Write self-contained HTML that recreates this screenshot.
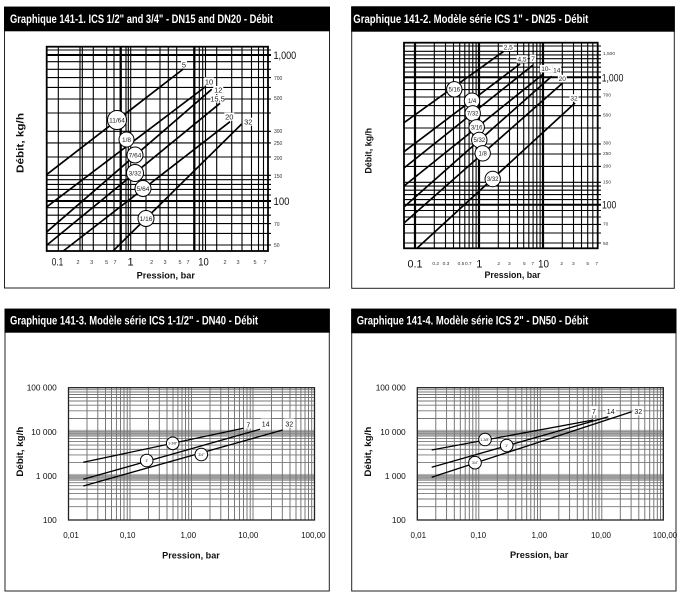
<!DOCTYPE html>
<html><head><meta charset="utf-8"><style>
html,body{margin:0;padding:0;background:#fff;}
svg{display:block;}
text{font-family:"Liberation Sans",Arial,sans-serif;}
</style></head><body>
<svg width="683" height="599" viewBox="0 0 683 599" xmlns="http://www.w3.org/2000/svg">
<defs>
<g id="g3">
<rect x="68.5" y="429.8" width="246" height="6" fill="#b8b8b8"/>
<rect x="68.5" y="473.9" width="246" height="6" fill="#b8b8b8"/>
<path stroke="#6a6a6a" stroke-width="0.9" fill="none" d="M87 387.7V520M97.8 387.7V520M105.5 387.7V520M111.5 387.7V520M116.4 387.7V520M120.5 387.7V520M124 387.7V520M127.2 387.7V520M130 387.7V520M148.5 387.7V520M159.3 387.7V520M167 387.7V520M173 387.7V520M177.9 387.7V520M182 387.7V520M185.5 387.7V520M188.7 387.7V520M191.5 387.7V520M210 387.7V520M220.8 387.7V520M228.5 387.7V520M234.5 387.7V520M239.4 387.7V520M243.5 387.7V520M247 387.7V520M250.2 387.7V520M253 387.7V520M271.5 387.7V520M282.3 387.7V520M290 387.7V520M296 387.7V520M300.9 387.7V520M305 387.7V520M308.5 387.7V520M311.7 387.7V520"/>
<path stroke="#777" stroke-width="0.9" fill="none" d="M68.5 389.7H314.5M68.5 392H314.5M68.5 394.5H314.5M68.5 397.5H314.5M68.5 401H314.5M68.5 405.2H314.5M68.5 410.8H314.5M68.5 418.5H314.5M68.5 431.8H314.5M68.5 433.8H314.5M68.5 436.1H314.5M68.5 438.6H314.5M68.5 441.6H314.5M68.5 445.1H314.5M68.5 449.3H314.5M68.5 454.9H314.5M68.5 462.6H314.5M68.5 475.9H314.5M68.5 477.9H314.5M68.5 480.2H314.5M68.5 482.7H314.5M68.5 485.7H314.5M68.5 489.2H314.5M68.5 493.4H314.5M68.5 499H314.5M68.5 506.7H314.5"/>
<rect x="68.5" y="387.7" width="246" height="132.3" fill="none" stroke="#222" stroke-width="1.3"/>
</g>
</defs>
<rect width="683" height="599" fill="#fff"/>

<!-- ============ PANEL 1 ============ -->
<rect x="4.5" y="7" width="325" height="281" fill="#fff" stroke="#222" stroke-width="1"/>
<rect x="4" y="7" width="326" height="24.3" fill="#000"/>
<text x="10" y="23" font-size="11.5" font-weight="bold" fill="#fff" textLength="263" lengthAdjust="spacingAndGlyphs">Graphique 141-1. ICS 1/2" and 3/4" - DN15 and DN20 - Débit</text>
<g stroke="#000" fill="none">
<path stroke-width="1.1" d="M58.3 46.7V251M80 46.7V251M82.3 46.7V251M93.3 46.7V251M106.7 46.7V251M114 46.7V251M126 46.7V251M128.3 46.7V251M130.7 46.7V251M146 46.7V251M160 46.7V251M168.3 46.7V251M176.7 46.7V251M199.3 46.7V251M202.7 46.7V251M205.5 46.7V251M216.7 46.7V251M231.7 46.7V251M242 46.7V251M251.5 46.7V251M258.5 46.7V251M263.5 46.7V251"/>
<path stroke-width="2.3" d="M120.7 46.7V251M194.3 46.7V251"/>
<path stroke-width="1.1" d="M46.7 50H271M46.7 61.7H271M46.7 69.3H271M46.7 77.6H271M46.7 87.4H271M46.7 99H271M46.7 113H271M46.7 131.3H271M46.7 142.9H271M46.7 157H271M46.7 175.3H271M46.7 179.7H271M46.7 184.4H271M46.7 189.4H271M46.7 195H271M46.7 207.7H271M46.7 215.2H271M46.7 223.6H271M46.7 233.4H271M46.7 245H271"/>
<path stroke-width="2" d="M46.7 55H271M46.7 201H271"/>
<rect x="46.7" y="46.7" width="221.3" height="204.3" stroke-width="1.8"/>
</g>
<g stroke="#000" stroke-width="1.7">
<line x1="47" y1="174.3" x2="183.3" y2="69"/>
<line x1="47" y1="206.7" x2="205.7" y2="86.5"/>
<line x1="47" y1="231.7" x2="211.7" y2="89.3"/>
<line x1="47" y1="245" x2="220" y2="103.3"/>
<line x1="63.3" y1="251" x2="230" y2="121.7"/>
<line x1="113" y1="251" x2="241.7" y2="124"/>
</g>
<g fill="#fff">
<rect x="181" y="60.5" width="6" height="8"/>
<rect x="204" y="77.5" width="10" height="8"/>
<rect x="213.3" y="86" width="10" height="8"/>
<rect x="210.5" y="95" width="14" height="7.5"/>
<rect x="224.3" y="112.7" width="10" height="8"/>
<rect x="243.3" y="117.7" width="10" height="8"/>
</g>
<g font-size="7.5" fill="#222" text-anchor="middle">
<text x="184" y="67.7">5</text>
<text x="209" y="84.4">10</text>
<text x="218.3" y="92.7">12</text>
<text x="217.5" y="101.7">15,5</text>
<text x="229.3" y="119.4">20</text>
<text x="248.3" y="124.4">32</text>
</g>
<g fill="#fff" stroke="#000" stroke-width="1">
<circle cx="117" cy="120" r="9.5"/>
<circle cx="126.5" cy="139.5" r="7.5"/>
<circle cx="135" cy="155" r="8"/>
<circle cx="135" cy="173" r="8.5"/>
<circle cx="143" cy="188.5" r="8"/>
<circle cx="146" cy="218.5" r="8"/>
</g>
<g font-size="6.5" fill="#222" text-anchor="middle">
<text x="117" y="122.3">11/64</text>
<text x="126.5" y="141.8">1/8</text>
<text x="135" y="157.3">7/64</text>
<text x="135" y="175.3">3/32</text>
<text x="143" y="190.8">5/64</text>
<text x="146" y="220.8">1/16</text>
</g>
<g font-size="11" fill="#111" text-anchor="middle">
<text x="57.5" y="265.5" textLength="11.5" lengthAdjust="spacingAndGlyphs">0.1</text>
<text x="130.5" y="265.5">1</text>
<text x="203.5" y="265.5" textLength="10.5" lengthAdjust="spacingAndGlyphs">10</text>
</g>
<g font-size="5.5" fill="#333" text-anchor="middle">
<text x="78" y="264">2</text><text x="91.7" y="264">3</text><text x="106.7" y="264">5</text><text x="115" y="264">7</text>
<text x="151.7" y="264">2</text><text x="165" y="264">3</text><text x="180" y="264">5</text><text x="188" y="264">7</text>
<text x="225" y="264">2</text><text x="238" y="264">3</text><text x="255" y="264">5</text><text x="265" y="264">7</text>
</g>
<text x="273.5" y="59" font-size="11" fill="#111" textLength="22.7" lengthAdjust="spacingAndGlyphs">1,000</text>
<text x="273.5" y="205" font-size="11" fill="#111" textLength="16" lengthAdjust="spacingAndGlyphs">100</text>
<g font-size="5" fill="#333">
<text x="274" y="79.8">700</text><text x="274" y="99.8">500</text><text x="274" y="132.8">300</text><text x="274" y="144.8">250</text><text x="274" y="159.8">200</text><text x="274" y="177.8">150</text><text x="274" y="225.8">70</text><text x="274" y="246.8">50</text>
</g>
<text x="165.8" y="278.5" font-size="9.5" font-weight="bold" fill="#111" text-anchor="middle" textLength="58.3" lengthAdjust="spacingAndGlyphs">Pression, bar</text>
<text transform="translate(23.5,143) rotate(-90)" font-size="10" font-weight="bold" fill="#111" text-anchor="middle" textLength="60" lengthAdjust="spacingAndGlyphs">Débit, kg/h</text>

<!-- ============ PANEL 2 ============ -->
<rect x="351.7" y="6.7" width="322.6" height="281.6" fill="#fff" stroke="#222" stroke-width="1"/>
<rect x="351.2" y="6.7" width="323.6" height="25" fill="#000"/>
<text x="353.3" y="23" font-size="11.5" font-weight="bold" fill="#fff" textLength="235" lengthAdjust="spacingAndGlyphs">Graphique 141-2. Modèle série ICS 1" - DN25 - Débit</text>
<g stroke="#000" fill="none">
<path stroke-width="1.1" d="M434.3 42.7V248.3M445.5 42.7V248.3M453.5 42.7V248.3M459.7 42.7V248.3M464.8 42.7V248.3M469.1 42.7V248.3M472.8 42.7V248.3M476.1 42.7V248.3M498.3 42.7V248.3M509.5 42.7V248.3M517.5 42.7V248.3M523.7 42.7V248.3M528.8 42.7V248.3M533.1 42.7V248.3M536.8 42.7V248.3M540.1 42.7V248.3M562.3 42.7V248.3M573.5 42.7V248.3M581.5 42.7V248.3M587.7 42.7V248.3M592.8 42.7V248.3"/>
<path stroke-width="2.2" d="M415 42.7V248.3M479 42.7V248.3M543 42.7V248.3"/>
<path stroke-width="1.1" d="M404 46H601M404 51.3H601M404 54.9H601M404 58.7H601M404 62.8H601M404 67.2H601M404 72H601M404 83.1H601M404 89.6H601M404 97H601M404 105.6H601M404 115.7H601M404 128H601M404 144H601M404 154H601M404 166.4H601M404 182.3H601M404 186.1H601M404 190.2H601M404 194.6H601M404 199.6H601M404 210.5H601M404 217H601M404 224.4H601M404 233H601M404 243H601"/>
<path stroke-width="2" d="M404 77.3H601M404 204.7H601"/>
<rect x="404" y="42.7" width="193.7" height="205.6" stroke-width="1.8"/>
</g>
<g stroke="#000" stroke-width="1.7">
<line x1="404" y1="122.7" x2="506" y2="49.7"/>
<line x1="404" y1="151.7" x2="520" y2="64"/>
<line x1="404" y1="168" x2="532.7" y2="65.3"/>
<line x1="404" y1="186" x2="543.3" y2="74"/>
<line x1="404" y1="207" x2="551.7" y2="76.3"/>
<line x1="404" y1="223" x2="562.7" y2="83"/>
<line x1="417" y1="248.3" x2="575" y2="103"/>
</g>
<g fill="#fff">
<rect x="502.8" y="43.5" width="11" height="7.5"/>
<rect x="516.5" y="55.2" width="11" height="7.5"/>
<rect x="530" y="54.7" width="6" height="7.5"/>
<rect x="540" y="64.9" width="12" height="7.5"/>
<rect x="552.2" y="66.5" width="9" height="7.5"/>
<rect x="557.8" y="74.9" width="9" height="7.5"/>
<rect x="569.5" y="94.2" width="9" height="7.5"/>
</g>
<g font-size="6.5" fill="#222" text-anchor="middle">
<text x="508.3" y="49.6">2,5</text>
<text x="522" y="61.3">4,5</text>
<text x="533" y="60.8">7</text>
<text x="546" y="71">10-</text>
<text x="556.7" y="72.6">14</text>
<text x="562.3" y="81">20</text>
<text x="574" y="100.3">32</text>
</g>
<g fill="#fff" stroke="#000" stroke-width="1">
<circle cx="454.3" cy="89.3" r="7.7"/>
<circle cx="472" cy="100.7" r="7.7"/>
<circle cx="472.7" cy="113.3" r="7.7"/>
<circle cx="476.7" cy="127.3" r="7.7"/>
<circle cx="479.3" cy="140" r="7.7"/>
<circle cx="482.7" cy="153.3" r="7.7"/>
<circle cx="492.7" cy="179" r="7.7"/>
</g>
<g font-size="6" fill="#222" text-anchor="middle">
<text x="454.3" y="91.4">5/16</text>
<text x="472" y="102.8">1/4</text>
<text x="472.7" y="115.4">7/32</text>
<text x="476.7" y="129.4">3/16</text>
<text x="479.3" y="142.1">5/32</text>
<text x="482.7" y="155.4">1/8</text>
<text x="492.7" y="181.1">3/32</text>
</g>
<g font-size="11" fill="#111" text-anchor="middle">
<text x="415" y="267.5" textLength="15" lengthAdjust="spacingAndGlyphs">0.1</text>
<text x="479.3" y="267.5">1</text>
<text x="543.5" y="267.5" textLength="11" lengthAdjust="spacingAndGlyphs">10</text>
</g>
<g font-size="4.8" fill="#333" text-anchor="middle">
<text x="435.7" y="265">0.2</text><text x="446" y="265">0.3</text><text x="461" y="265">0.5</text><text x="468.3" y="265">0.7</text>
<text x="498.7" y="265">2</text><text x="509.3" y="265">3</text><text x="524.3" y="265">5</text><text x="532.7" y="265">7</text>
<text x="561.7" y="265">2</text><text x="573.3" y="265">3</text><text x="587.7" y="265">5</text><text x="596.7" y="265">7</text>
</g>
<text x="601.7" y="81.3" font-size="11" fill="#111" textLength="21.7" lengthAdjust="spacingAndGlyphs">1,000</text>
<text x="602" y="208.7" font-size="11" fill="#111" textLength="14.3" lengthAdjust="spacingAndGlyphs">100</text>
<g font-size="4.8" fill="#333">
<text x="603" y="55">1,500</text><text x="603" y="96.7">700</text><text x="603" y="116.7">500</text><text x="603" y="144.4">300</text><text x="603" y="155">250</text><text x="603" y="167.4">200</text><text x="603" y="183.7">150</text><text x="603" y="225.7">70</text><text x="603" y="245">50</text>
</g>
<text x="512.5" y="278" font-size="9.5" font-weight="bold" fill="#111" text-anchor="middle" textLength="56" lengthAdjust="spacingAndGlyphs">Pression, bar</text>
<text transform="translate(371.7,150.8) rotate(-90)" font-size="9" font-weight="bold" fill="#111" text-anchor="middle" textLength="45.7" lengthAdjust="spacingAndGlyphs">Débit, kg/h</text>

<!-- ============ PANEL 3 ============ -->
<rect x="5" y="309" width="324.3" height="282" fill="#fff" stroke="#222" stroke-width="1"/>
<rect x="4.5" y="309" width="325.3" height="23.7" fill="#000"/>
<text x="10" y="324.5" font-size="11.5" font-weight="bold" fill="#fff" textLength="248" lengthAdjust="spacingAndGlyphs">Graphique 141-3. Modèle série ICS 1-1/2" - DN40 - Débit</text>
<use href="#g3"/>
<g stroke="#000" stroke-width="1.3">
<line x1="83.3" y1="462.3" x2="243.3" y2="428.3"/>
<line x1="83.3" y1="479.3" x2="260" y2="429.3"/>
<line x1="83.3" y1="486" x2="282.7" y2="430"/>
</g>
<g fill="#fff">
<rect x="244.8" y="419.5" width="7" height="9"/>
<rect x="260.7" y="418.5" width="10" height="9"/>
<rect x="284.3" y="418.5" width="10" height="9"/>
</g>
<g font-size="7" fill="#111" text-anchor="middle">
<text x="248.3" y="427.5">7</text>
<text x="265.7" y="426.5">14</text>
<text x="289.3" y="426.5">32</text>
</g>
<g fill="#fff" stroke="#000" stroke-width="1">
<circle cx="172.7" cy="443.3" r="6.3"/>
<circle cx="146.7" cy="460.5" r="6.3"/>
<circle cx="201.3" cy="454.5" r="6.3"/>
</g>
<g font-size="3.5" fill="#222" text-anchor="middle">
<text x="172.7" y="444.6">1-3/8"</text>
<text x="146.7" y="461.8">1"</text>
<text x="201.3" y="455.8">3/4"</text>
</g>
<g font-size="8.3" fill="#111" text-anchor="end">
<text x="56.7" y="390.7">100 000</text>
<text x="56.7" y="434.8">10 000</text>
<text x="56.7" y="479">1 000</text>
<text x="56.7" y="523">100</text>
</g>
<g font-size="8" fill="#111" text-anchor="middle">
<text x="71" y="538">0,01</text>
<text x="127.7" y="538">0,10</text>
<text x="188.3" y="538">1,00</text>
<text x="248.3" y="538">10,00</text>
<text x="313.3" y="538">100,00</text>
</g>
<text x="191" y="558.3" font-size="9.5" font-weight="bold" fill="#111" text-anchor="middle" textLength="57.7" lengthAdjust="spacingAndGlyphs">Pression, bar</text>
<text transform="translate(23,451.7) rotate(-90)" font-size="9.5" font-weight="bold" fill="#111" text-anchor="middle" textLength="50" lengthAdjust="spacingAndGlyphs">Débit, kg/h</text>

<!-- ============ PANEL 4 ============ -->
<rect x="351.7" y="309" width="324.3" height="282" fill="#fff" stroke="#222" stroke-width="1"/>
<rect x="351.2" y="309" width="325.3" height="24.3" fill="#000"/>
<text x="356.7" y="324.5" font-size="11.5" font-weight="bold" fill="#fff" textLength="231.6" lengthAdjust="spacingAndGlyphs">Graphique 141-4. Modèle série ICS 2" - DN50 - Débit</text>
<use href="#g3" transform="translate(348.8 0)"/>
<g stroke="#000" stroke-width="1.3">
<line x1="431.7" y1="450" x2="593.3" y2="420"/>
<line x1="431.7" y1="467.3" x2="608.3" y2="416.7"/>
<line x1="431.7" y1="477.3" x2="631.7" y2="411.7"/>
</g>
<g fill="#fff">
<rect x="590.5" y="406.2" width="7" height="9"/>
<rect x="605.7" y="406.2" width="10" height="9"/>
<rect x="633.3" y="406.2" width="10" height="9"/>
</g>
<g font-size="7" fill="#111" text-anchor="middle">
<text x="594" y="414.2">7</text>
<text x="610.7" y="414.2">14</text>
<text x="638.3" y="414.2">32</text>
</g>
<g fill="#fff" stroke="#000" stroke-width="1">
<circle cx="485" cy="439.5" r="6.3"/>
<circle cx="506.7" cy="445.5" r="6.3"/>
<circle cx="475" cy="462.7" r="6.3"/>
</g>
<g font-size="3.5" fill="#222" text-anchor="middle">
<text x="485" y="440.8">1-3/8"</text>
<text x="506.7" y="446.8">1"</text>
<text x="475" y="464">3/4"</text>
</g>
<g font-size="8.3" fill="#111" text-anchor="end">
<text x="405.7" y="390.7">100 000</text>
<text x="405.7" y="434.8">10 000</text>
<text x="405.7" y="479">1 000</text>
<text x="405.7" y="523">100</text>
</g>
<g font-size="8" fill="#111" text-anchor="middle">
<text x="418.3" y="538">0,01</text>
<text x="478.3" y="538">0,10</text>
<text x="539.3" y="538">1,00</text>
<text x="601" y="538">10,00</text>
<text x="665" y="538">100,00</text>
</g>
<text x="539.2" y="557.8" font-size="9.5" font-weight="bold" fill="#111" text-anchor="middle" textLength="58.3" lengthAdjust="spacingAndGlyphs">Pression, bar</text>
<text transform="translate(371,451.7) rotate(-90)" font-size="9.5" font-weight="bold" fill="#111" text-anchor="middle" textLength="50" lengthAdjust="spacingAndGlyphs">Débit, kg/h</text>
</svg>
</body></html>
